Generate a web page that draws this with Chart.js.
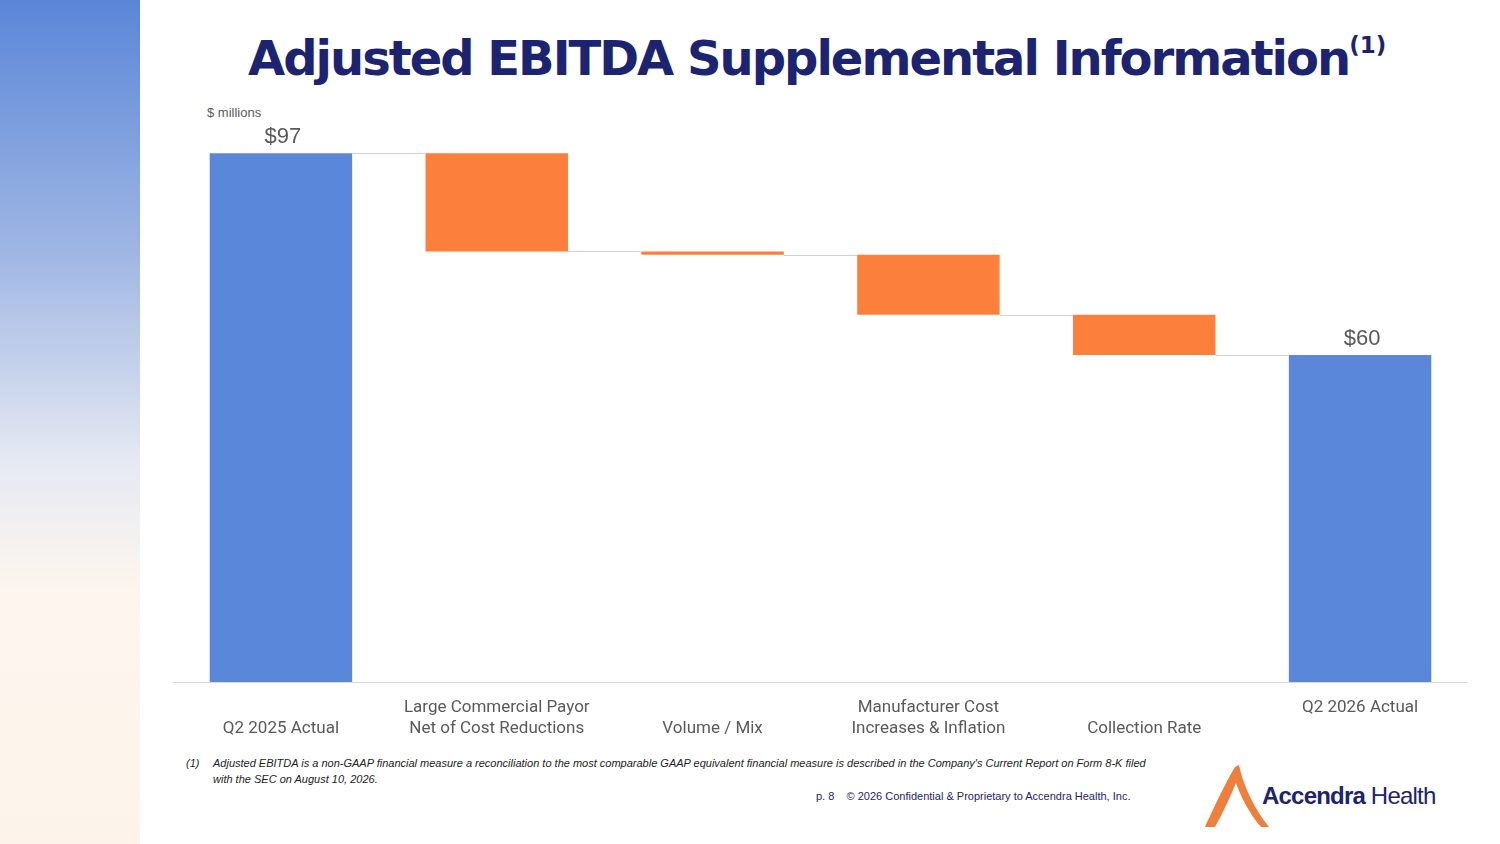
<!DOCTYPE html>
<html><head><meta charset="utf-8">
<script src="https://cdn.jsdelivr.net/npm/chart.js@4/dist/chart.umd.min.js"></script>
<style>
body{margin:0;width:1500px;height:844px;position:relative;background:#fff;font-family:"Open Sans",Arial,sans-serif;overflow:hidden}
#side{position:absolute;left:0;top:0;width:140px;height:844px;background:linear-gradient(#5a86d8 0%,#9fb6e3 30%,#e6e9f2 55%,#fdf6ee 70%,#fdf3ea 100%)}
h1{position:absolute;left:248px;top:30px;margin:0;white-space:nowrap;font:bold 48px "DejaVu Sans",sans-serif;color:#1c2370;letter-spacing:-2px}
h1 sup{font-size:23px;vertical-align:22px;letter-spacing:0}
#units{position:absolute;left:207px;top:105px;font:13px Arial,sans-serif;color:#595959}
#wrap{position:absolute;left:173px;top:100px;width:1295px;height:642px}
#note{position:absolute;left:186px;top:755px;font:italic 11px Arial,sans-serif;color:#222;line-height:16px;letter-spacing:0}
#note span{display:inline-block;width:27px}
#page{position:absolute;left:816px;top:790px;font:11px Arial,sans-serif;color:#1c2370}
#logo{position:absolute;left:1205px;top:765px}
#logotxt{position:absolute;left:1262px;top:782px;font:24px Arial,sans-serif;color:#1c2370;letter-spacing:-0.8px}
</style></head><body>
<div id="side"></div>
<h1>Adjusted EBITDA Supplemental Information<sup>(1)</sup></h1>
<div id="units">$ millions</div>
<div id="wrap"><canvas id="c"></canvas></div>
<div id="note"><span>(1)</span>Adjusted EBITDA is a non-GAAP financial measure a reconciliation to the most comparable GAAP equivalent financial measure is described in the Company's Current Report on Form 8-K filed<br><span></span>with the SEC on August 10, 2026.</div>
<div id="page">p. 8 &nbsp;&nbsp;&nbsp;© 2026 Confidential &amp; Proprietary to Accendra Health, Inc.</div>
<svg id="logo" width="70" height="65" viewBox="0 0 70 65"><path d="M0 62 C10 40 22 15 30 2 L34 0 C38 20 50 45 64 62 L56 62 C44 48 36 32 31 18 C25 32 18 48 10 62 Z" fill="#f07f3c"/></svg>
<div id="logotxt"><b>Accendra</b> Health</div>
<script>
const categories = [['', 'Q2 2025 Actual'], ['Large Commercial Payor', 'Net of Cost Reductions'], ['', 'Volume / Mix'], ['Manufacturer Cost', 'Increases & Inflation'], ['', 'Collection Rate'], ['Q2 2026 Actual', '']];
const startValue = 97;
const deltas = [-18, -0.6, -11, -7.4];
const totalLabels = ['$97', '$60'];

const floats = [[0, startValue]];
let running = startValue;
const levels = [startValue];
deltas.forEach(d => { floats.push([running + d, running]); running += d; levels.push(running); });
floats.push([0, running]);
const colors = floats.map((f, i) => (i === 0 || i === floats.length - 1) ? '#5a87d9' : '#fd7f3c');

const extras = {
  id: 'extras',
  afterDatasetsDraw(chart) {
    const ctx = chart.ctx, meta = chart.getDatasetMeta(0), y = chart.scales.y;
    ctx.save();
    ctx.strokeStyle = '#d0d0d0'; ctx.lineWidth = 1;
    for (let i = 0; i < meta.data.length - 1; i++) {
      const a = meta.data[i], b = meta.data[i + 1];
      const yy = Math.round(y.getPixelForValue(levels[i])) + 0.5;
      ctx.beginPath(); ctx.moveTo(a.x + a.width / 2, yy); ctx.lineTo(b.x - b.width / 2, yy); ctx.stroke();
    }
    ctx.fillStyle = '#595959'; ctx.font = '22px Arial'; ctx.textAlign = 'center'; ctx.textBaseline = 'bottom';
    [0, meta.data.length - 1].forEach((idx, k) => {
      const bar = meta.data[idx];
      ctx.fillText(totalLabels[k], bar.x + 2, bar.y - 5);
    });
    ctx.restore();
  }
};

new Chart(document.getElementById('c'), {
  type: 'bar',
  data: { labels: categories, datasets: [{ data: floats, backgroundColor: colors, categoryPercentage: 1, barPercentage: 0.66 }] },
  options: {
    responsive: true, maintainAspectRatio: false, animation: false,
    layout: { padding: { top: 37 } },
    plugins: { legend: { display: false }, tooltip: { enabled: false } },
    scales: {
      x: { grid: { display: false }, border: { color: '#d9d9d9' },
           ticks: { color: '#595959', font: { size: 17, family: 'Roboto' }, maxRotation: 0, padding: 8 },
           afterFit: s => { s.height = 60; } },
      y: { display: false, min: 0, max: 100 }
    }
  },
  plugins: [extras]
});
</script>
</body></html>
